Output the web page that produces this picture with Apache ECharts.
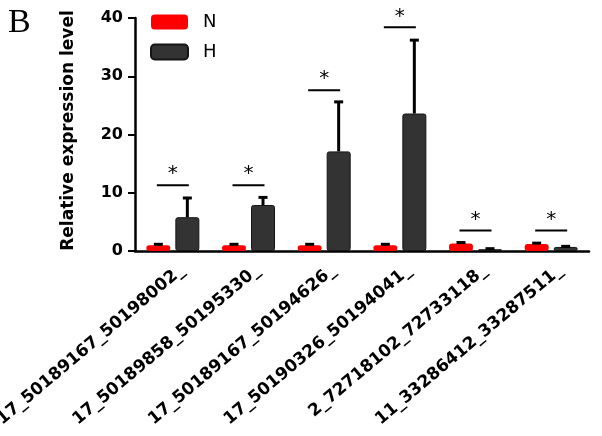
<!DOCTYPE html>
<html>
<head>
<meta charset="utf-8">
<script src="https://cdn.jsdelivr.net/npm/echarts@6/dist/echarts.min.js"></script>
<style>
  html, body { margin: 0; padding: 0; background: #fff; }
  #chart { width: 602px; height: 436px; }
</style>
</head>
<body>
<div id="chart"></div>
<script>
// values
var categories = [
  '17_50189167_50198002_',
  '17_50189858_50195330_',
  '17_50189167_50194626_',
  '17_50190326_50194041_',
  '2_72718102_72733118_',
  '11_33286412_33287511_'
];
var nMean = [1.0, 1.0, 1.0, 1.0, 1.3, 1.2];
var nErr = [0.15, 0.15, 0.15, 0.15, 0.15, 0.15];
var hMean = [5.8, 7.9, 17.1, 23.6, 0.3, 0.7];
var hErr = [3.3, 1.3, 8.5, 12.6, 0.1, 0.1];
var sigLevel = [11.3, 11.3, 27.6, 38.4, 3.5, 3.5];
var yTicks = [0, 10, 20, 30, 40];

var chart = echarts.init(document.getElementById('chart'));
var font = 'DejaVu Sans';

function errorSeries(mean, err, offset) {
  return {
    type: 'custom',
    z: 5,
    silent: true,
    data: mean.map(function (m, i) { return [i, m, err[i]]; }),
    renderItem: function (params, api) {
      var base = api.coord([api.value(0), api.value(1)]);
      var top = api.coord([api.value(0), api.value(1) + api.value(2)]);
      var x = base[0] + offset;
      return {
        type: 'group',
        children: [
          { type: 'line', shape: { x1: x, y1: base[1], x2: x, y2: top[1] }, style: { stroke: '#000', lineWidth: 3 } },
          { type: 'line', shape: { x1: x - 4.5, y1: top[1], x2: x + 4.5, y2: top[1] }, style: { stroke: '#000', lineWidth: 3 } }
        ]
      };
    }
  };
}

var option = {
  animation: false,
  graphic: [{
    type: 'text', left: 8, top: 6,
    style: { text: 'B', font: '34px "Liberation Serif"', fill: '#000' }
  }],
  legend: {
    data: ['N', 'H'],
    orient: 'vertical',
    left: 150,
    top: 13,
    padding: 0,
    itemWidth: 37,
    itemHeight: 15,
    itemGap: 12,
    icon: 'roundRect',
    textStyle: { fontFamily: font, fontSize: 18, color: '#000', padding: [0, 0, 0, 10] }
  },
  grid: { left: 135, right: 13, top: 18, bottom: 185, outerBoundsMode: 'none' },
  xAxis: {
    type: 'category',
    data: categories,
    axisLine: { lineStyle: { color: '#000', width: 2.5 } },
    axisTick: { alignWithLabel: true, length: 6, lineStyle: { color: '#000', width: 2 } },
    axisLabel: {
      rotate: 40, margin: 14, interval: 0,
      verticalAlign: 'top',
      padding: [0, -5, 0, 0],
      fontFamily: font, fontWeight: 'bold', fontSize: 17, color: '#000'
    }
  },
  yAxis: {
    type: 'value',
    min: yTicks[0],
    max: yTicks[yTicks.length - 1],
    interval: 10,
    name: 'Relative expression level',
    nameLocation: 'middle',
    nameGap: 58,
    nameTextStyle: { fontFamily: font, fontWeight: 'bold', fontSize: 17, color: '#000', padding: [0, 0, 0, 8] },
    splitLine: { show: false },
    axisLine: { show: true, lineStyle: { color: '#000', width: 2.5 } },
    axisTick: { show: true, length: 7, lineStyle: { color: '#000', width: 2 } },
    axisLabel: { margin: 12, fontFamily: font, fontWeight: 'bold', fontSize: 16, color: '#000' }
  },
  series: [
    {
      name: 'N', type: 'bar', data: nMean,
      barWidth: 24, barGap: '21%',
      itemStyle: { color: '#ff0000', borderRadius: 3 }
    },
    {
      name: 'H', type: 'bar', data: hMean,
      barWidth: 24,
      itemStyle: { color: '#333333', borderColor: '#151515', borderWidth: 1, borderRadius: 2 }
    },
    errorSeries(nMean, nErr, -14.5),
    errorSeries(hMean, hErr, 14.5),
    {
      type: 'custom',
      z: 6,
      silent: true,
      data: sigLevel.map(function (v, i) { return [i, v]; }),
      renderItem: function (params, api) {
        var p = api.coord([api.value(0), api.value(1)]);
        return {
          type: 'group',
          children: [
            { type: 'line', shape: { x1: p[0] - 16, y1: p[1], x2: p[0] + 16, y2: p[1] }, style: { stroke: '#000', lineWidth: 2 } },
            { type: 'text', x: p[0], y: p[1] - 11,
              style: { text: '*', font: '20px "DejaVu Sans"', fill: '#000', align: 'center', verticalAlign: 'middle' } }
          ]
        };
      }
    }
  ]
};

chart.setOption(option);
</script>
</body>
</html>
